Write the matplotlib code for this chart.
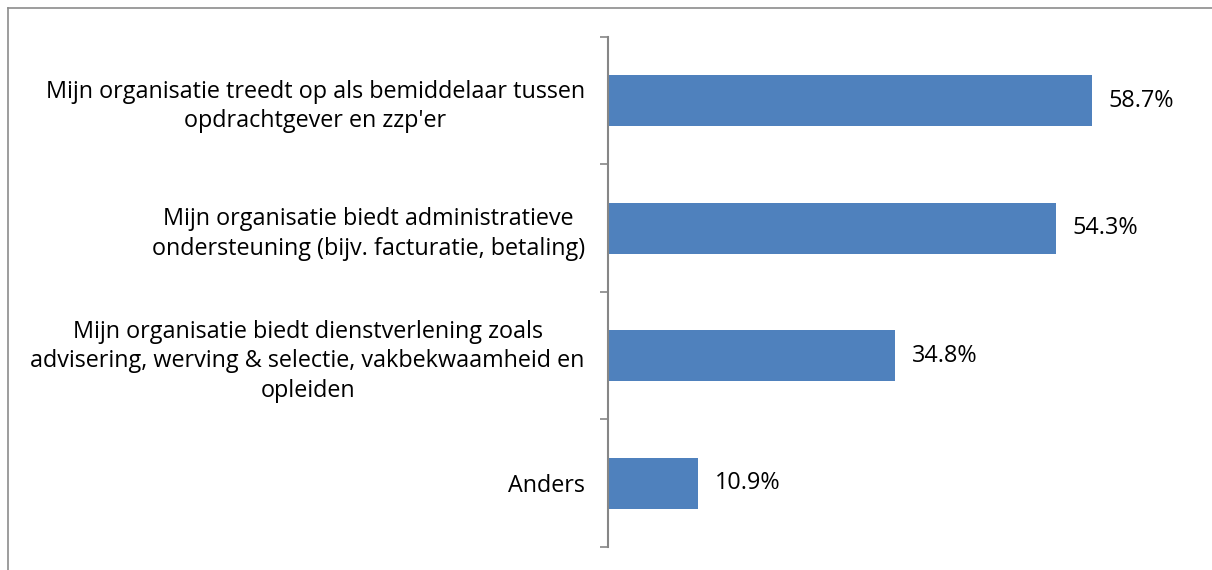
import matplotlib
matplotlib.use("Agg")
import matplotlib.pyplot as plt
from matplotlib.lines import Line2D

categories = [
    "Mijn organisatie treedt op als bemiddelaar tussen\nopdrachtgever en zzp'er",
    "Mijn organisatie biedt administratieve\nondersteuning (bijv. facturatie, betaling)",
    "Mijn organisatie biedt dienstverlening zoals\nadvisering, werving & selectie, vakbekwaamheid en\nopleiden",
    "Anders",
]
values = [58.7, 54.3, 34.8, 10.9]

plt.rcParams['font.family'] = ['Open Sans', 'DejaVu Sans']

fig = plt.figure(figsize=(12.12, 5.7), dpi=100)
ax = fig.add_axes([0.502, 0.0404, 0.476, 0.8947])

ypos = list(range(len(categories)))
ax.barh(ypos, values, height=0.4, color='#4F81BD')
ax.set_xlim(0, 70)
ax.set_ylim(len(categories) - 0.5, -0.5)

for y, v in zip(ypos, values):
    ax.text(v + 2.0, y, f"{v:.1f}%", va='center', ha='left', fontsize=16.8, color='black')

ax.set_yticks(ypos)
ax.set_yticklabels(categories, fontsize=16.8, multialignment='center', linespacing=1.3)
ax.set_yticks([i - 0.5 for i in range(len(categories) + 1)], minor=True)
ax.tick_params(axis='y', which='major', length=0, pad=17)
ax.tick_params(axis='y', which='minor', length=6, width=1.2, color='#868686', direction='out')
ax.set_xticks([])

for s in ['top', 'right', 'bottom']:
    ax.spines[s].set_visible(False)
ax.spines['left'].set_color('#868686')
ax.spines['left'].set_linewidth(1.5)

# outer chart border (only left and top are visible in the crop)
fig.add_artist(Line2D([8 / 1212, 8 / 1212], [0, 1 - 8 / 570], transform=fig.transFigure,
                      color='#8c8c8c', lw=1.2))
fig.add_artist(Line2D([8 / 1212, 1], [1 - 8 / 570, 1 - 8 / 570], transform=fig.transFigure,
                      color='#8c8c8c', lw=1.2))

fig.savefig("out.png", dpi=100)
